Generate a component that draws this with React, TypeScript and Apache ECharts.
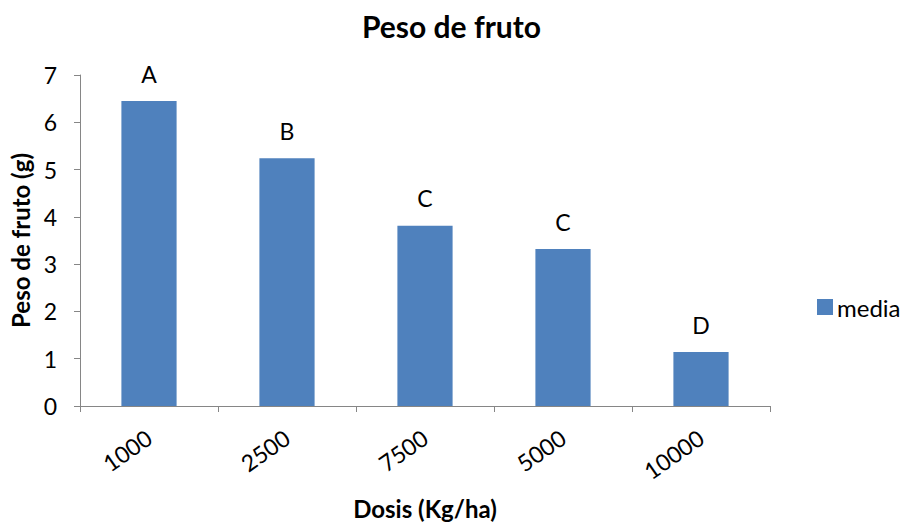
import React, { useEffect, useRef } from "react";
import * as echarts from "echarts";

const categories = ["1000", "2500", "7500", "5000", "10000"];
const media = [6.45, 5.24, 3.81, 3.32, 1.14];
const letters = ["A", "B", "C", "C", "D"];
const yTicks = [0, 1, 2, 3, 4, 5, 6, 7];

const FONT = "Lato, 'Open Sans', sans-serif";

export default function App() {
  const ref = useRef<HTMLDivElement>(null);
  useEffect(() => {
    if (!ref.current) return;
    const chart = echarts.init(ref.current, undefined, { renderer: "svg" });
    chart.setOption({
      animation: false,
      textStyle: { fontFamily: FONT },
      title: {
        text: "Peso de fruto",
        left: "center",
        top: 6,
        textStyle: { fontFamily: FONT, fontSize: 30, fontWeight: "bold", color: "#000" },
      },
      legend: {
        data: ["media"],
        left: 812,
        top: 290,
        icon: "rect",
        itemWidth: 16,
        itemHeight: 16,
        itemGap: 6,
        textStyle: { fontFamily: FONT, fontSize: 24, color: "#000", padding: [0, 0, 0, -1] },
      },
      grid: { left: 80, right: 133, top: 75, bottom: 117, containLabel: false, outerBoundsMode: "none" },
      xAxis: {
        type: "category",
        data: categories,
        name: "Dosis (Kg/ha)",
        nameLocation: "middle",
        nameGap: 90,
        nameTextStyle: { fontFamily: FONT, fontSize: 24, fontWeight: "bold", color: "#000" },
        axisLine: { lineStyle: { color: "#868686", width: 1 } },
        axisTick: { show: true, alignWithLabel: false, length: 6, lineStyle: { color: "#868686" } },
        axisLabel: {
          rotate: 35,
          margin: 29,
          fontFamily: FONT,
          fontSize: 23,
          color: "#000",
        },
      },
      yAxis: {
        type: "value",
        min: yTicks[0],
        max: yTicks[yTicks.length - 1],
        interval: 1,
        name: "Peso de fruto (g)",
        nameLocation: "middle",
        nameGap: 46,
        nameTextStyle: { fontFamily: FONT, fontSize: 24, fontWeight: "bold", color: "#000" },
        axisLine: { show: true, lineStyle: { color: "#868686", width: 1 } },
        axisTick: { show: true, length: 6, lineStyle: { color: "#868686" } },
        splitLine: { show: false },
        axisLabel: { margin: 23, fontFamily: FONT, fontSize: 23, color: "#000" },
      },
      series: [
        {
          name: "media",
          type: "bar",
          data: media,
          barWidth: "40%",
          itemStyle: { color: "#4F81BD" },
          label: {
            show: true,
            position: "top",
            distance: 16,
            fontFamily: FONT,
            fontSize: 23,
            color: "#000",
            formatter: (p: any) => letters[p.dataIndex],
          },
        },
      ],
    });
    return () => chart.dispose();
  }, []);
  return <div ref={ref} style={{ width: 903, height: 523, position: "absolute", left: 0, top: 0 }} />;
}
